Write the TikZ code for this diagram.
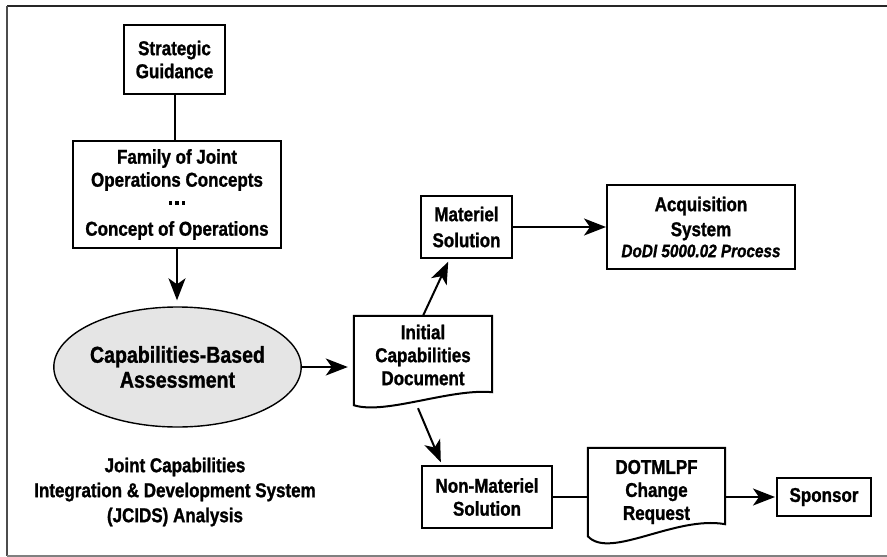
\documentclass[tikz,border=0pt]{standalone}
\usepackage{fontspec}
\setmainfont[FakeStretch=0.85,FakeBold=1.2]{Liberation Sans}
\usetikzlibrary{shapes.geometric,arrows.meta,calc}

\begin{document}
\begin{tikzpicture}[x=1pt,y=-1pt,
  lbl/.style={font=\bfseries\fontsize{20}{23}\selectfont, align=center},
  box/.style={lbl, draw, line width=2pt, rectangle, inner sep=0pt},
  docnode/.style={lbl, rectangle, inner sep=0pt},
  docline/.style={line width=2pt, line join=miter},
  conn/.style={line width=2pt},
  arr/.style={conn, -{Stealth[length=22pt,width=17pt,inset=6pt]}, shorten >=3pt}]

\useasboundingbox (0,0) rectangle (887,557);

% frame
\draw[line width=2.5pt, black!85] (7,6) -- (887,6);
\draw[line width=2pt, black!70] (7,6) -- (7,556);
\draw[line width=2pt, black!50] (7,556) -- (887,556);

% left column
\node[box, minimum width=101, minimum height=69] (sg) at (174.5,59.5)
  {Strategic\\Guidance};
\node[box, minimum width=208, minimum height=107] (fam) at (177,194.5)
  {Family of Joint\\Operations Concepts\\[-5pt]%
   \rule{3.5pt}{3.5pt}\hspace{3pt}\rule{3.5pt}{3.5pt}\hspace{3pt}\rule{3.5pt}{3.5pt}\\[8pt]%
   Concept of Operations};
\node[ellipse, draw, fill=black!10, line width=1.4pt, inner sep=0pt,
      minimum width=211, minimum height=120,
      font=\bfseries\fontsize{23}{25}\selectfont, align=center] (cba) at (177.5,367)
  {Capabilities-Based\\Assessment};
\node[lbl, font=\bfseries\fontsize{20}{25}\selectfont] (jcids) at (175,492)
  {Joint Capabilities\\Integration \& Development System\\(JCIDS) Analysis};

% document: initial capabilities
\node[docnode, minimum width=138, minimum height=78] (icd) at (423,355)
  {Initial\\Capabilities\\Document};
\draw[docline] ($(icd.south west)+(0,11)$) -- (icd.north west) -- (icd.north east)
  -- ($(icd.south east)+(0,-2)$)
  .. controls ($(icd.south east)+(-42,-6)$) and ($(icd.south west)+(31,21)$)
  .. ($(icd.south west)+(0,11)$) -- cycle;

% upper right
\node[box, minimum width=91, minimum height=62] (mat) at (466.5,227)
  {Materiel\\[3pt]Solution};
\node[box, minimum width=188, minimum height=84] (acq) at (701,227)
  {Acquisition\\[2pt]System\\[-2pt]{\itshape\fontsize{18}{20}\selectfont DoDI 5000.02 Process}};

% lower right
\node[box, minimum width=130, minimum height=62] (nonmat) at (487,497)
  {Non-Materiel\\Solution};
\node[docnode, minimum width=137, minimum height=88] (dot) at (656.5,492)
  {DOTMLPF\\Change\\Request};
\draw[docline] (dot.south west) -- (dot.north west) -- (dot.north east)
  -- ($(dot.south east)+(0,-12)$)
  .. controls ($(dot.south east)+(-50,-21)$) and ($(dot.south west)+(22,24)$)
  .. (dot.south west) -- cycle;
\node[box, minimum width=94, minimum height=38] (spon) at (824,497)
  {Sponsor};

% connectors
\draw[conn] (sg.south) -- (sg.south |- fam.north);
\draw[arr, shorten >=6pt] (fam.south) -- (fam.south |- cba.north);
\draw[arr, shorten >=6pt] (cba.east) -- (cba.east -| icd.west);
\draw[arr] (icd.north) -- ($(mat.south)+(-17,0)$);
\draw[arr, shorten >=0pt] (mat.east) -- (acq.west);
\draw[arr] ($(icd.south)+(-5,14)$) -- ($(nonmat.north west)+(21,0)$);
\draw[conn] (nonmat.east) -- (nonmat.east -| dot.west);
\draw[arr, shorten >=1pt] (spon.west -| dot.east) -- (spon.west);

\end{tikzpicture}
\end{document}
